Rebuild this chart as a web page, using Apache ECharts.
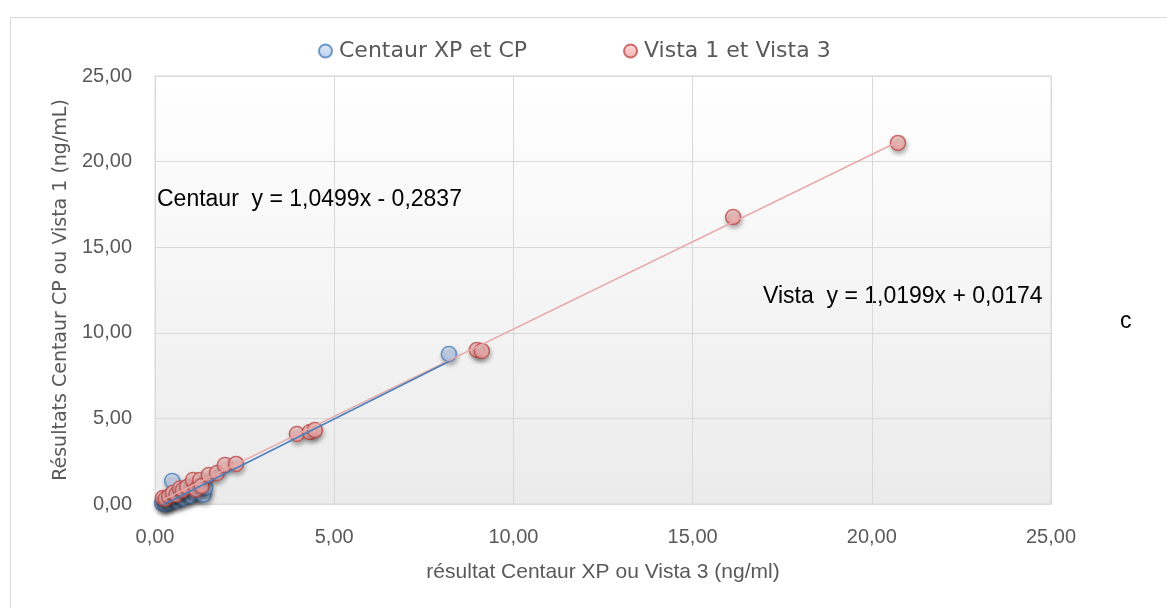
<!DOCTYPE html>
<html>
<head>
<meta charset="utf-8">
<script src="https://cdn.jsdelivr.net/npm/echarts@6/dist/echarts.min.js"></script>
<style>html,body{margin:0;padding:0;background:#fff;}#c{width:1167px;height:608px;}</style>
</head>
<body>
<div id="c"></div>
<script>
// ---- data ----
const seriesNames = ['Centaur XP et CP', 'Vista 1 et Vista 3'];
const centaurPoints = [
  [0.20,0.05],[0.25,0.15],[0.30,0.00],[0.35,0.25],[0.40,0.10],[0.48,1.35],[0.50,0.30],
  [0.60,0.20],[0.70,0.40],[0.80,0.35],[0.90,0.55],[1.00,0.50],[1.10,0.65],[1.25,0.70],
  [1.35,0.55],[1.40,0.95],[8.20,8.76]
];
const vistaPoints = [
  [0.22,0.35],[0.30,0.30],[0.40,0.45],[0.50,0.64],[0.60,0.55],[0.70,0.90],[0.78,0.82],
  [0.90,1.00],[1.06,1.40],[1.15,0.85],[1.26,1.40],[1.30,1.05],[1.50,1.69],[1.73,1.81],
  [1.95,2.28],[2.26,2.34],[3.96,4.09],[4.32,4.20],[4.46,4.32],[8.98,9.00],[9.12,8.94],
  [16.13,16.76],[20.73,21.09]
];
// trendline coefficients [slope, intercept]
const centaurFit = [1.0499, -0.2837];
const vistaFit = [1.0199, 0.0174];
const axisTicks = [0, 5, 10, 15, 20, 25];
const xTitle = 'résultat Centaur XP ou Vista 3 (ng/ml)';
const yTitle = 'Résultats Centaur CP ou Vista 1 (ng/mL)';
const centaurLabel = 'Centaur  y = 1,0499x - 0,2837';
const vistaLabel = 'Vista  y = 1,0199x + 0,0174';
const sideNote = 'c';

function fitLine(points, fit) {
  const xs = points.map(p => p[0]);
  const x0 = Math.min(...xs), x1 = Math.max(...xs);
  return [[x0, fit[0] * x0 + fit[1]], [x1, fit[0] * x1 + fit[1]]];
}
const fmt = v => v.toFixed(2).replace('.', ',');

const chart = echarts.init(document.getElementById('c'), null, {renderer: 'canvas'});
const shadow = {shadowBlur: 4, shadowOffsetX: 1, shadowOffsetY: 3, shadowColor: 'rgba(0,0,0,0.35)'};
const blueFill = new echarts.graphic.LinearGradient(0, 0, 0, 1, [{offset: 0, color: '#dbe6f7'}, {offset: 1, color: '#a9c3ea'}]);
const redFill = new echarts.graphic.LinearGradient(0, 0, 0, 1, [{offset: 0, color: '#fbd3d3'}, {offset: 1, color: '#f19c9c'}]);

const option = {
  animation: false,
  backgroundColor: '#ffffff',
  legend: {
    data: seriesNames,
    top: 35,
    left: 313,
    icon: 'circle',
    itemWidth: 13,
    itemHeight: 13,
    itemGap: 96,
    textStyle: {fontFamily: 'DejaVu Sans', fontSize: 22, color: '#595959', padding: [0,0,0,2]}
  },
  grid: {
    left: 155, right: 116, top: 76, bottom: 104,
    show: true,
    borderColor: '#d9d9d9', borderWidth: 1,
    backgroundColor: new echarts.graphic.LinearGradient(0, 0, 0, 1, [{offset: 0, color: '#ffffff'}, {offset: 1, color: '#ebebeb'}])
  },
  xAxis: {
    type: 'value', min: axisTicks[0], max: axisTicks[axisTicks.length - 1], interval: 5,
    name: xTitle, nameLocation: 'middle', nameGap: 58,
    nameTextStyle: {fontFamily: 'Liberation Sans', fontSize: 21, color: '#595959'},
    axisLine: {show: true, lineStyle: {color: '#d9d9d9'}},
    axisTick: {show: false},
    axisLabel: {margin: 23, fontFamily: 'Liberation Sans', fontSize: 20, color: '#595959', formatter: fmt},
    splitLine: {show: true, lineStyle: {color: '#d9d9d9', width: 1}}
  },
  yAxis: {
    type: 'value', min: axisTicks[0], max: axisTicks[axisTicks.length - 1], interval: 5,
    name: yTitle, nameLocation: 'middle', nameGap: 83, nameRotate: 90,
    nameTextStyle: {fontFamily: 'DejaVu Sans', fontSize: 19, color: '#595959'},
    axisLine: {show: true, lineStyle: {color: '#d9d9d9'}},
    axisTick: {show: false},
    axisLabel: {margin: 23, fontFamily: 'Liberation Sans', fontSize: 20, color: '#595959', formatter: fmt},
    splitLine: {show: true, lineStyle: {color: '#d9d9d9', width: 1}}
  },
  series: [
    {
      name: seriesNames[0], type: 'scatter', data: centaurPoints, symbolSize: 15, z: 2,
      itemStyle: Object.assign({color: blueFill, borderColor: '#4a7ebb', borderWidth: 1.5}, shadow)
    },
    {
      name: seriesNames[1], type: 'scatter', data: vistaPoints, symbolSize: 15, z: 3,
      itemStyle: Object.assign({color: redFill, borderColor: '#be4b48', borderWidth: 1.5}, shadow)
    },
    {
      type: 'line', data: fitLine(vistaPoints, vistaFit), symbol: 'none', z: 4, silent: true,
      lineStyle: {color: '#e8a9a8', width: 1.5}
    },
    {
      type: 'line', data: fitLine(centaurPoints, centaurFit), symbol: 'none', z: 5, silent: true,
      lineStyle: {color: '#4a7ebb', width: 1.5}
    }
  ],
  graphic: [
    {type: 'rect', left: 8, top: 15, shape: {width: 1300, height: 700}, style: {fill: 'none', stroke: '#d9d9d9', lineWidth: 1}, silent: true, z: -1},
    {type: 'text', left: 157, top: 188, style: {text: centaurLabel, fontFamily: 'Liberation Sans', fontSize: 23, fill: '#000'}},
    {type: 'text', left: 763, top: 285, style: {text: vistaLabel, fontFamily: 'Liberation Sans', fontSize: 23, fill: '#000'}},
    {type: 'text', left: 1120, top: 310, style: {text: sideNote, fontFamily: 'Liberation Sans', fontSize: 23, fill: '#000'}}
  ]
};
chart.setOption(option);
</script>
</body>
</html>
